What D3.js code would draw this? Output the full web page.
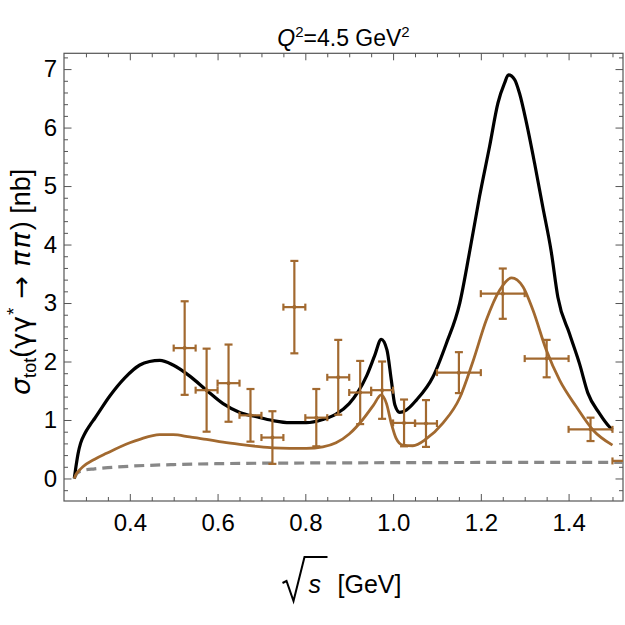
<!DOCTYPE html>
<html>
<head>
<meta charset="utf-8">
<script src="https://cdn.jsdelivr.net/npm/d3@7"></script>
<style>
    body { margin: 0; background: #fff; }
    text { font-family: "Liberation Sans", Arial, sans-serif; fill: #000; }
</style>
</head>
<body>
<div id="my_chart"></div>
<script>
// measured points: bin centre, half bin width, cross section, error
const pointX = [0.525, 0.575, 0.625, 0.675, 0.725, 0.775, 0.825, 0.875, 0.925, 0.975, 1.025, 1.075, 1.15, 1.25, 1.35, 1.45, 1.55];
const pointXErr = [0.025, 0.025, 0.025, 0.025, 0.025, 0.025, 0.025, 0.025, 0.025, 0.025, 0.025, 0.025, 0.05, 0.05, 0.05, 0.05, 0.05];
const pointY = [2.23, 1.51, 1.63, 1.08, 0.70, 2.93, 1.04, 1.73, 1.47, 1.51, 0.95, 0.94, 1.81, 3.16, 2.05, 0.84, 0.30];
const pointYErr = [0.80, 0.71, 0.66, 0.45, 0.45, 0.79, 0.49, 0.64, 0.54, 0.49, 0.40, 0.40, 0.35, 0.43, 0.32, 0.20, 0.06];

// black curve
const blackX = [0.2734, 0.2772, 0.2822, 0.2877, 0.2975, 0.3089, 0.3203, 0.3544, 0.3886, 0.4228, 0.445, 0.4683, 0.4986, 0.5367, 0.5747, 0.6125, 0.6506, 0.6886, 0.7264, 0.7645, 0.8025, 0.84, 0.87, 0.90, 0.92, 0.94, 0.958, 0.973, 0.986, 0.996, 1.004, 1.015, 1.03, 1.053, 1.091, 1.121, 1.152, 1.1745, 1.197, 1.22, 1.239, 1.254, 1.263, 1.277, 1.288, 1.304, 1.3225, 1.341, 1.36, 1.3756, 1.4023, 1.425, 1.444, 1.4706, 1.4934, 1.5];
const blackY = [0, 0.2, 0.43, 0.6, 0.77, 0.91, 1.03, 1.41, 1.72, 1.94, 2.0, 2.02, 1.94, 1.75, 1.51, 1.28, 1.13, 1.055, 0.99, 0.955, 0.955, 1.01, 1.1, 1.28, 1.48, 1.76, 2.1, 2.38, 2.2, 1.68, 1.26, 1.13, 1.17, 1.34, 1.74, 2.3, 3.0, 3.88, 4.82, 5.68, 6.42, 6.76, 6.9, 6.82, 6.59, 6.08, 5.39, 4.65, 3.9, 3.1, 2.47, 1.96, 1.46, 1.11, 0.88, 0.83];

// brown curve
const brownX = [0.2734, 0.278, 0.285, 0.293, 0.32, 0.347, 0.4, 0.4228, 0.468, 0.4986, 0.5367, 0.5747, 0.6125, 0.6506, 0.6886, 0.7264, 0.7645, 0.8025, 0.84, 0.87, 0.90, 0.93, 0.955, 0.973, 0.985, 0.996, 1.007, 1.022, 1.045, 1.076, 1.114, 1.152, 1.182, 1.2125, 1.2428, 1.27, 1.296, 1.3187, 1.349, 1.3795, 1.4173, 1.4554, 1.5];
const brownY = [0, 0.08, 0.14, 0.2, 0.33, 0.43, 0.61, 0.67, 0.75, 0.75, 0.71, 0.668, 0.62, 0.582, 0.55, 0.524, 0.515, 0.514, 0.54, 0.61, 0.76, 1.0, 1.25, 1.43, 1.28, 0.94, 0.685, 0.57, 0.56, 0.68, 0.95, 1.38, 2.0, 2.71, 3.22, 3.43, 3.28, 2.88, 2.2, 1.68, 1.23, 0.83, 0.57];

// grey dashed curve
const greyX = [0.2734, 0.28, 0.29, 0.32, 0.35, 0.4, 0.5, 0.6, 0.8, 1.0, 1.2, 1.4, 1.524];
const greyY = [0, 0.09, 0.13, 0.165, 0.185, 0.21, 0.238, 0.253, 0.265, 0.27, 0.274, 0.276, 0.277];

const xMajor = [0.4, 0.6, 0.8, 1.0, 1.2, 1.4];
const yMajor = [0, 1, 2, 3, 4, 5, 6, 7];

var margin = { top: 53.3, right: 2, bottom: 124, left: 64 },
    width = 625 - margin.left - margin.right,
    height = 625 - margin.top - margin.bottom;

var brown = "#a2692f";
var frameColor = "#555";

var svg = d3.select("#my_chart")
    .append("svg")
    .attr("width", 625)
    .attr("height", 625)
    .append("g")
    .attr("transform", "translate(" + margin.left + "," + margin.top + ")");

var x = d3.scaleLinear().domain([0.25, 1.524]).range([0, width]);
var y = d3.scaleLinear().domain([-0.385, 7.27]).range([height, 0]);

svg.append("clipPath").attr("id", "plot-clip")
    .append("rect").attr("width", width).attr("height", height);

// minor tick values
var xMinor = d3.range(0.3, 1.52, 0.05).filter(v => !xMajor.some(m => Math.abs(m - v) < 1e-6));
var yMinor = d3.range(-0.2, 7.25, 0.2).filter(v => !yMajor.some(m => Math.abs(m - v) < 1e-6));

function styleAxis(g) {
    g.select(".domain").remove();
    g.selectAll(".tick line").attr("stroke", frameColor).attr("stroke-width", 1);
    g.selectAll(".tick text").style("font-size", "24px").attr("fill", "#000");
}

// bottom
svg.append("g").attr("transform", "translate(0," + height + ")")
    .call(d3.axisBottom(x).tickValues(xMajor).tickSize(-7).tickPadding(13).tickFormat(d3.format(".1f")))
    .call(styleAxis);
svg.append("g").attr("transform", "translate(0," + height + ")")
    .call(d3.axisBottom(x).tickValues(xMinor).tickSize(-4).tickFormat(""))
    .call(styleAxis);
// top
svg.append("g")
    .call(d3.axisTop(x).tickValues(xMajor).tickSize(-7).tickFormat(""))
    .call(styleAxis);
svg.append("g")
    .call(d3.axisTop(x).tickValues(xMinor).tickSize(-4).tickFormat(""))
    .call(styleAxis);
// left
svg.append("g")
    .call(d3.axisLeft(y).tickValues(yMajor).tickSize(-7.5).tickPadding(7).tickFormat(d3.format("d")))
    .call(styleAxis);
svg.append("g")
    .call(d3.axisLeft(y).tickValues(yMinor).tickSize(-4).tickFormat(""))
    .call(styleAxis);
// right
svg.append("g").attr("transform", "translate(" + width + ",0)")
    .call(d3.axisRight(y).tickValues(yMajor).tickSize(-7.5).tickFormat(""))
    .call(styleAxis);
svg.append("g").attr("transform", "translate(" + width + ",0)")
    .call(d3.axisRight(y).tickValues(yMinor).tickSize(-4).tickFormat(""))
    .call(styleAxis);

// frame
svg.append("rect")
    .attr("width", width).attr("height", height)
    .attr("fill", "none").attr("stroke", frameColor).attr("stroke-width", 1.2);

var plot = svg.append("g").attr("clip-path", "url(#plot-clip)");

var line = d3.line()
    .x(d => x(d[0]))
    .y(d => y(d[1]))
    .curve(d3.curveMonotoneX);

plot.append("path")
    .datum(d3.zip(greyX, greyY))
    .attr("d", line)
    .attr("fill", "none")
    .attr("stroke", "#888")
    .attr("stroke-width", 3.2)
    .attr("stroke-dasharray", "10,6");

plot.append("path")
    .datum(d3.zip(blackX, blackY))
    .attr("d", line)
    .attr("fill", "none")
    .attr("stroke", "#000")
    .attr("stroke-width", 3.2)
    .attr("stroke-linejoin", "round");

plot.append("path")
    .datum(d3.zip(brownX, brownY))
    .attr("d", line)
    .attr("fill", "none")
    .attr("stroke", brown)
    .attr("stroke-width", 2.8)
    .attr("stroke-linejoin", "round");

// error bars
var points = pointX.map((v, i) => ({ x: v, xe: pointXErr[i], y: pointY[i], ye: pointYErr[i] }));

var bars = plot.selectAll(".bar")
    .data(points)
    .enter().append("g")
    .attr("class", "bar")
    .attr("stroke", brown)
    .attr("stroke-width", 2.2);

bars.append("line")
    .attr("x1", d => x(d.x)).attr("x2", d => x(d.x))
    .attr("y1", d => y(d.y - d.ye)).attr("y2", d => y(d.y + d.ye));
bars.append("line")
    .attr("x1", d => x(d.x) - 4).attr("x2", d => x(d.x) + 4)
    .attr("y1", d => y(d.y - d.ye)).attr("y2", d => y(d.y - d.ye));
bars.append("line")
    .attr("x1", d => x(d.x) - 4).attr("x2", d => x(d.x) + 4)
    .attr("y1", d => y(d.y + d.ye)).attr("y2", d => y(d.y + d.ye));
bars.append("line")
    .attr("x1", d => x(d.x - d.xe)).attr("x2", d => x(d.x + d.xe))
    .attr("y1", d => y(d.y)).attr("y2", d => y(d.y));
bars.append("line")
    .attr("x1", d => x(d.x - d.xe)).attr("x2", d => x(d.x - d.xe))
    .attr("y1", d => y(d.y) - 3.5).attr("y2", d => y(d.y) + 3.5);
bars.append("line")
    .attr("x1", d => x(d.x + d.xe)).attr("x2", d => x(d.x + d.xe))
    .attr("y1", d => y(d.y) - 3.5).attr("y2", d => y(d.y) + 3.5);
bars.append("circle")
    .attr("cx", d => x(d.x)).attr("cy", d => y(d.y))
    .attr("r", 2).attr("fill", brown).attr("stroke", "none");

// title
var title = svg.append("text")
    .attr("x", width / 2)
    .attr("y", -7)
    .attr("text-anchor", "middle")
    .style("font-size", "23px");
title.append("tspan").style("font-style", "italic").text("Q");
title.append("tspan").attr("dy", -9).style("font-size", "15px").text("2");
title.append("tspan").attr("dy", 9).text("=4.5 GeV");
title.append("tspan").attr("dy", -9).style("font-size", "15px").text("2");

// y label, written upward from its start
var greek = "DejaVu Sans";
var ylab = svg.append("text")
    .attr("transform", "translate(" + (-34) + "," + (395 - margin.top) + ") rotate(-90)")
    .attr("text-anchor", "start")
    .style("font-size", "27px");
ylab.append("tspan").style("font-style", "italic").style("font-family", greek).text("σ");
ylab.append("tspan").attr("dy", 6).style("font-size", "18px").text("tot");
ylab.append("tspan").attr("dy", -6).text("(");
ylab.append("tspan").style("font-family", greek).style("letter-spacing", "1px").text("γγ");
ylab.append("tspan").attr("dy", -10).style("font-size", "19px").text("*");
ylab.append("tspan").attr("dy", 10).attr("dx", 9).style("font-family", greek).text("→");
ylab.append("tspan").attr("dx", 9).style("font-style", "italic").style("font-family", greek).style("letter-spacing", "2px").text("ππ");
ylab.append("tspan").text(") [nb]");

// x label
var xlab = svg.append("g").attr("transform", "translate(" + (width / 2) + "," + (height + 92) + ")");
xlab.append("path")
    .attr("d", "M-61,-10 L-57,-12 L-50,8 L-39,-36 L-16,-36")
    .attr("fill", "none").attr("stroke", "#000").attr("stroke-width", 2);
xlab.append("text")
    .attr("x", -35).attr("y", 0)
    .style("font-size", "25px").style("font-style", "italic")
    .text("s");
xlab.append("text")
    .attr("x", -6).attr("y", 0)
    .style("font-size", "25px")
    .text("[GeV]");
</script>
</body>
</html>
